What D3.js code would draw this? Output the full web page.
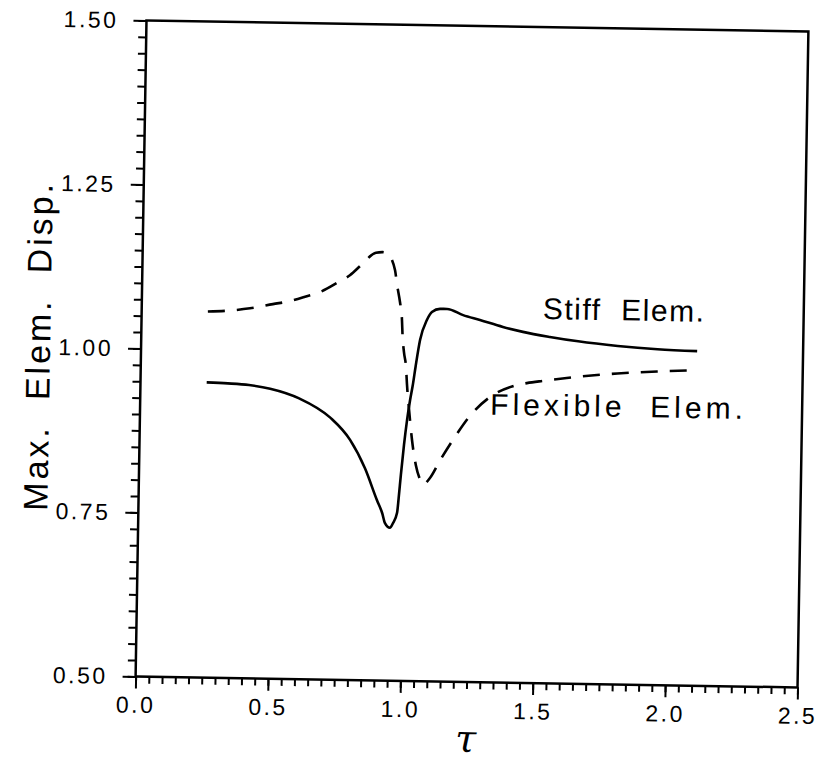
<!DOCTYPE html>
<html><head><meta charset="utf-8">
<script src="https://cdn.jsdelivr.net/npm/d3@7"></script>
<style>body{margin:0;background:#fff}text{font-family:"Liberation Sans",Arial,sans-serif;fill:#000}</style>
</head><body><svg id="c" width="817" height="762"></svg>
<script>
// Data
const stiffTau = [0.25,0.33,0.41,0.49,0.60,0.72,0.795,0.853,0.90,0.921,0.932,0.951,0.962,0.977,0.982,0.989,0.999,1.009,1.019,1.028,1.038,1.053,1.078,1.096,1.127,1.153,1.214,1.278,1.365,1.441,1.543,1.65,1.80,1.95,2.10];
const stiffVal = [0.950,0.949,0.947,0.942,0.928,0.899,0.866,0.823,0.775,0.755,0.740,0.733,0.740,0.756,0.778,0.814,0.860,0.898,0.928,0.950,0.980,1.020,1.051,1.063,1.068,1.068,1.059,1.052,1.042,1.035,1.028,1.022,1.016,1.012,1.010];
const flexTau = [0.25,0.33,0.409,0.495,0.559,0.616,0.680,0.736,0.784,0.829,0.881,0.907,0.926,0.954,0.963,0.975,0.983,0.987,0.993,1.002,1.006,1.016,1.029,1.045,1.061,1.073,1.099,1.136,1.192,1.247,1.321,1.406,1.459,1.524,1.65,1.80,1.95,2.10];
const flexVal = [1.058,1.060,1.064,1.071,1.076,1.083,1.092,1.105,1.117,1.134,1.152,1.153,1.150,1.126,1.103,1.077,1.053,1.024,1.001,0.977,0.954,0.913,0.867,0.829,0.808,0.800,0.810,0.837,0.874,0.906,0.935,0.952,0.957,0.961,0.968,0.974,0.978,0.981];
const xTicks = [0.0,0.5,1.0,1.5,2.0,2.5];
const yTicks = [0.50,0.75,1.00,1.25,1.50];
const xMinor = d3.range(0,51).map(i=>i*0.05);
const yMinor = d3.range(0,41).map(i=>0.5+i*0.025);
const labels = [{t:"Stiff  Elem.", tau:1.515, v:1.055, ls:1.5},{t:"Flexible  Elem.", tau:1.322, v:0.908, ls:4}];

const svg = d3.select('#c');
const x0=141,x1=803,y0=26,y1=682;
const g = svg.append('g').attr('transform','rotate(0.95,472,354)');
const x = d3.scaleLinear().domain([0,2.5]).range([x0,x1]);
const y = d3.scaleLinear().domain([0.5,1.5]).range([y1,y0]);

// frame
g.append('rect').attr('x',x0).attr('y',y0).attr('width',x1-x0).attr('height',y1-y0)
  .attr('fill','none').attr('stroke','#000').attr('stroke-width',2.5);

// x axis minor + major
const xm = g.append('g').attr('transform',`translate(0,${y1})`)
  .call(d3.axisBottom(x).tickValues(xMinor).tickSize(7).tickFormat(''));
xm.select('.domain').remove();
xm.selectAll('line').attr('stroke-width',2);
const xa = g.append('g').attr('transform',`translate(0,${y1})`)
  .call(d3.axisBottom(x).tickValues(xTicks).tickSize(12).tickPadding(8).tickFormat(d3.format('.1f')));
xa.select('.domain').remove();
xa.selectAll('line').attr('stroke-width',2);
xa.selectAll('text').style('font-size','23px').style('letter-spacing','2.5px').attr('fill','#000');

// y axis minor + major
const ym = g.append('g').attr('transform',`translate(${x0},0)`)
  .call(d3.axisLeft(y).tickValues(yMinor).tickSize(8).tickFormat(''));
ym.select('.domain').remove();
ym.selectAll('line').attr('stroke-width',2);
const ya = g.append('g').attr('transform',`translate(${x0},0)`)
  .call(d3.axisLeft(y).tickValues(yTicks).tickSize(13).tickPadding(15).tickFormat(d3.format('.2f')));
ya.select('.domain').remove();
ya.selectAll('line').attr('stroke-width',2);
ya.selectAll('text').style('font-size','23px').style('letter-spacing','2.5px').attr('fill','#000');

// curves
const line = d3.line().x(d=>x(d[0])).y(d=>y(d[1])).curve(d3.curveMonotoneX);
g.append('path').datum(d3.zip(stiffTau,stiffVal)).attr('d',line)
  .attr('fill','none').attr('stroke','#000').attr('stroke-width',2.6);
g.append('path').datum(d3.zip(flexTau,flexVal)).attr('d',line)
  .attr('fill','none').attr('stroke','#000').attr('stroke-width',2.6).attr('stroke-dasharray','17,12');

// labels
g.selectAll('.lbl').data(labels).enter().append('text')
  .attr('x',d=>x(d.tau)).attr('y',d=>y(d.v))
  .style('font-size','30px').style('letter-spacing',d=>d.ls+'px').style('white-space','pre')
  .text(d=>d.t);

// axis titles
g.append('text').attr('x',(x0+x1)/2).attr('y',752).attr('text-anchor','middle')
  .style('font-size','38px').style('font-style','italic').style('font-family','"DejaVu Serif",serif').text('τ');
g.append('text').attr('transform','translate(50,353) rotate(-90)').attr('text-anchor','middle')
  .style('font-size','34px').style('letter-spacing','3px').style('white-space','pre')
  .text('Max.  Elem.  Disp.');
</script></body></html>
